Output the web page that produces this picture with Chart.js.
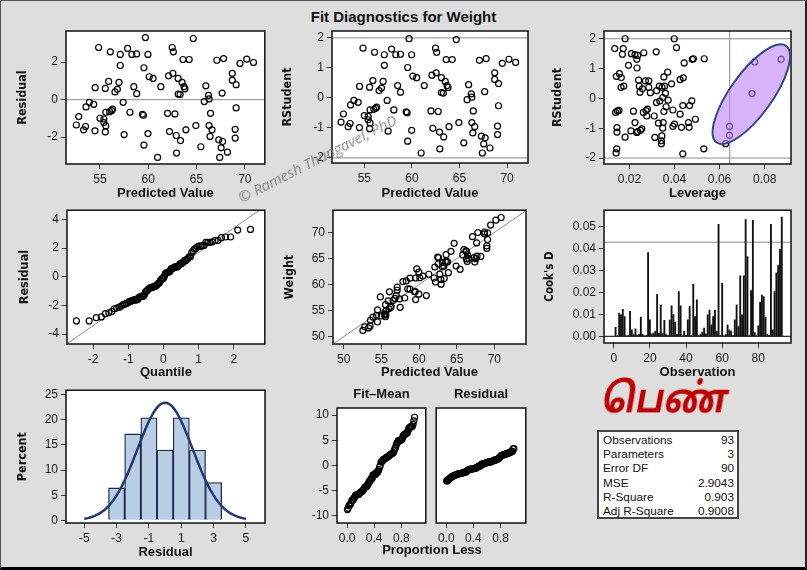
<!DOCTYPE html>
<html>
<head>
<meta charset="utf-8">
<script src="https://cdn.jsdelivr.net/npm/chart.js@4.4.1/dist/chart.umd.min.js"></script>
<style>
  html, body { margin: 0; padding: 0; }
  body { width: 807px; height: 570px; background: #dedede; position: relative; overflow: hidden;
         font-family: "Liberation Sans", Arial, sans-serif; }
  #frame { position: absolute; left: 0; top: 0; width: 804px; height: 566px;
           border-left: 1px solid #555; border-top: 1px solid #555; border-right: 2px solid #222; border-bottom: 3px solid #000; }
  canvas { position: absolute; }
  #title { position: absolute; left: 0; top: 8px; width: 807px; text-align: center; font-weight: bold; font-size: 15px; line-height: 18px; color: #111; }
  #wm { position: absolute; left: 243px; top: 188px; font-family: "Open Sans", sans-serif; font-style: italic; font-size: 15px;
        line-height: 18px; color: rgba(105,105,105,0.8); transform-origin: 0 100%; transform: rotate(-27deg); white-space: nowrap; }
  #tamil { position: absolute; left: 560px; top: 379px; width: 210px; text-align: center; color: #c00000;
           font-family: "Noto Sans Tamil", "Noto Serif Tamil", "Lohit Tamil", "Noto Sans", sans-serif;
           font-weight: bold; font-size: 41px; line-height: 46px; transform: scaleX(0.84) skewX(-12deg); }
  #stats { position: absolute; left: 597px; top: 430px; width: 136px; height: 83px; border: 2px solid #444; background: #fff;
           padding: 1px 1px; font-size: 11.8px; color: #111; }
  #stats div { display: flex; justify-content: space-between; height: 14.2px; line-height: 14.2px; padding: 0 2px 0 3px; }
  #proplabel { position: absolute; left: 332px; top: 542px; width: 200px; text-align: center; font-weight: bold; font-size: 13px; line-height: 16px; color: #111; }
</style>
</head>
<body>
<div id="frame"></div>
<div id="title">Fit Diagnostics for Weight</div>
<canvas id="c1"></canvas>
<canvas id="c2"></canvas>
<canvas id="c3"></canvas>
<canvas id="c4"></canvas>
<canvas id="c5"></canvas>
<canvas id="c6"></canvas>
<canvas id="c7"></canvas>
<canvas id="c8"></canvas>
<canvas id="c9"></canvas>
<div id="wm">© Ramesh Thangavel, PhD</div>
<div id="tamil">பெண்</div>
<div id="stats"></div>
<div id="proplabel">Proportion Less</div>
<script>
// values (93 observations)
const predicted = [59.7,64.66,54.86,56.07,57.86,57.1,58.3,58.8,59.97,62.48,
  62.6,63.6,64.24,67.1,67.8,69.5,70.2,70.9,57.1,59.55,
  68.7,62.55,62.1,60.1,60.5,63.1,55.9,56.97,63.5,68.7,
  69.1,63.7,54.5,55.55,56.8,56.55,58.5,61.3,63.8,65.96,
  67.65,58.8,63.1,63.3,66.24,66.3,65.8,53.9,54.35,53.55,
  57.4,56.3,56.2,56.0,55.6,58.1,69.1,62.0,62.76,59.4,
  59.5,66.45,52.8,55.0,55.4,55.4,55.6,52.55,53.5,53.3,
  54.48,55.55,57.5,64.93,66.3,66.6,63.9,62.2,59.97,69.0,
  62.9,63.34,66.4,67.3,67.7,69.0,59.55,65.45,67.55,68.2,
  62.93,60.97,67.4];
const residual = [3.31,3.26,2.78,2.55,2.73,2.41,2.41,2.44,2.41,2.78,
  2.55,2.14,2.14,2.1,2.19,1.93,2.16,1.98,1.82,1.7,
  1.4,1.4,1.27,1.22,1.13,1.13,0.97,0.92,0.92,1.03,
  0.8,0.69,0.64,0.6,0.55,0.41,0.69,0.69,0.58,0.74,
  0.35,0.32,0.3,0.27,0.23,0.04,-0.1,-0.14,-0.25,-0.39,
  -0.14,-0.51,-0.58,-0.64,-0.67,-0.67,-0.44,-0.73,-0.76,-0.78,
  -0.83,-0.73,-0.9,-0.99,-1.03,-1.22,-1.4,-1.35,-1.43,-1.61,
  -1.66,-1.72,-1.86,-1.38,-1.38,-1.61,-1.61,-1.7,-1.81,-1.58,
  -1.91,-2.18,-1.96,-2.14,-2.23,-2.05,-2.42,-2.51,-2.57,-2.8,
  -2.85,-3.08,-3.08];
const leverage = [0.0181,0.0399,0.0135,0.0173,0.0409,0.0169,0.0209,0.0225,0.0237,0.0264,
  0.0319,0.0233,0.0196,0.0234,0.0443,0.0479,0.0484,0.0532,0.0142,0.0156,
  0.0164,0.0241,0.0271,0.0286,0.0353,0.0370,0.0387,0.0425,0.0439,0.0163,
  0.0175,0.0244,0.0258,0.0286,0.0247,0.0293,0.0333,0.0345,0.0356,0.0321,
  0.0360,0.0348,0.0335,0.0372,0.0320,0.0477,0.0363,0.0437,0.0467,0.0280,
  0.0274,0.0262,0.0353,0.0393,0.0218,0.0147,0.0154,0.0139,0.0425,0.0493,
  0.0462,0.0277,0.0310,0.0329,0.0350,0.0225,0.0400,0.0393,0.0348,0.0431,
  0.0465,0.0145,0.0145,0.0207,0.0233,0.0249,0.0255,0.0237,0.0181,0.0313,
  0.0344,0.0342,0.0342,0.0144,0.0141,0.0437,0.0530,0.0627,0.0644,0.0644,
  0.0756,0.0873,0.0744];
const levRStudent = [2.0,2.0,1.67,1.67,1.7,1.48,1.5,1.47,1.44,1.53,
  1.56,1.31,1.11,1.02,1.19,1.31,1.33,1.33,0.74,0.83,
  0.7,0.61,0.59,0.59,0.72,0.88,0.49,0.63,0.69,0.37,
  0.41,0.41,0.32,0.37,0.21,0.19,0.41,0.37,0.41,0.26,
  0.17,0.03,-0.09,-0.06,-0.14,-0.08,-0.28,-0.24,-0.24,-0.36,
  -0.41,-0.47,-0.44,-0.39,-0.43,-0.42,-0.4,-0.47,-0.53,-0.7,
  -0.81,-0.59,-0.59,-0.83,-0.81,-0.81,-0.86,-0.94,-1.0,-0.97,
  -0.97,-0.98,-1.13,-1.09,-1.14,-1.07,-1.02,-1.11,-1.3,-1.31,
  -1.26,-1.42,-1.52,-1.69,-1.83,-1.86,-1.69,-1.52,-0.94,-1.24,
  1.22,1.31,0.16];
const cooksD = [0.0042,0.0003,0.0106,0.0098,0.0124,0.0091,0.0002,0.0004,0.0115,0.0030,
  0.0008,0.0035,0.0006,0.0010,0.0088,0.0010,0.0001,0.0005,0.0383,0.0076,
  0.0012,0.0015,0.0023,0.0192,0.0015,0.0144,0.0015,0.0073,0.0010,0.0004,
  0.0075,0.0140,0.0100,0.0065,0.0010,0.0205,0.0140,0.0003,0.0023,0.0005,
  0.0076,0.0136,0.0004,0.0238,0.0091,0.0167,0.0004,0.0010,0.0020,0.0038,
  0.0012,0.0098,0.0120,0.0053,0.0091,0.0120,0.0023,0.0512,0.0006,0.0242,
  0.0002,0.0008,0.0053,0.0030,0.0023,0.0004,0.0076,0.0144,0.0045,0.0276,
  0.0098,0.0276,0.0533,0.0364,0.0003,0.0209,0.0530,0.0018,0.0004,0.0048,
  0.0157,0.0189,0.0182,0.0088,0.0008,0.0005,0.0512,0.0030,0.0205,0.0290,
  0.0323,0.0397,0.0545];
const histMid = [-3, -2, -1, 0, 1, 2, 3];
const histPct = [6.45, 17.2, 20.4, 14.0, 20.4, 14.0, 7.5];

const statLabels = ['Observations', 'Parameters', 'Error DF', 'MSE', 'R-Square', 'Adj R-Square'];
const statValues = ['93', '3', '90', '2.9043', '0.903', '0.9008'];
const MSE = 2.9043, nParm = 3, nObs = 93;
const levCutoff = 0.0645, cookCutoff = 0.043;

// tick labels per panel
const tPredX = [55, 60, 65, 70];
const tResY = [-2, 0, 2];
const tRstY = [-2, -1, 0, 1, 2];
const tLevX = [0.02, 0.04, 0.06, 0.08];
const tQuantX = [-2, -1, 0, 1, 2];
const tQuantY = [-4, -2, 0, 2, 4];
const tWeight = [50, 55, 60, 65, 70];
const tObsX = [0, 20, 40, 60, 80];
const tCookY = [0, 0.01, 0.02, 0.03, 0.04, 0.05];
const tHistX = [-5, -3, -1, 1, 3, 5];
const tHistY = [0, 5, 10, 15, 20, 25];
const tPropX = [0, 0.4, 0.8];
const tSpreadY = [-10, -5, 0, 5, 10];

// ellipse round the high-leverage points (data units)
const ellipseCenter = [0.0741, 0.14];
const ellipseTip = [0.0895, 1.76];

// --- helpers ---
function qnorm(p) {
  const a = [-39.69683028665376, 220.9460984245205, -275.9285104469687, 138.3577518672690, -30.66479806614716, 2.506628277459239];
  const b = [-54.47609879822406, 161.5858368580409, -155.6989798598866, 66.80131188771972, -13.28068155288572];
  const c = [-0.007784894002430293, -0.3223964580411365, -2.400758277161838, -2.549732539343734, 4.374664141464968, 2.938163982698783];
  const d = [0.007784695709041462, 0.3224671290700398, 2.445134137142996, 3.754408661907416];
  const lo = 0.02425;
  if (p < lo || p > 1 - lo) {
    const q = Math.sqrt(-2 * Math.log(p < lo ? p : 1 - p));
    const v = (((((c[0]*q + c[1])*q + c[2])*q + c[3])*q + c[4])*q + c[5]) / ((((d[0]*q + d[1])*q + d[2])*q + d[3])*q + 1);
    return p < lo ? v : -v;
  }
  const q = p - 0.5, r = q * q;
  return (((((a[0]*r + a[1])*r + a[2])*r + a[3])*r + a[4])*r + a[5]) * q / (((((b[0]*r + b[1])*r + b[2])*r + b[3])*r + b[4])*r + 1);
}

const tickFont = { family: '"Liberation Sans", Arial, sans-serif', size: 12 };
const xTitleFont = { family: '"Liberation Sans", Arial, sans-serif', size: 13, weight: 'bold' };
const yTitleFont = { family: '"Liberation Sans Narrow", "DejaVu Sans Condensed", "Liberation Sans", sans-serif', size: 12.5, weight: 'bold' };

function axis(min, max, vals, dec, title, size, titlePad, isY, tFont) {
  return {
    type: 'linear', min, max, offset: false,
    afterBuildTicks: s => { s.ticks = vals.map(v => ({ value: v })); },
    afterFit: s => { if (isY) s.width = size; else s.height = size; },
    ticks: { color: '#1a1a1a', font: tickFont, padding: 3, maxRotation: 0, autoSkip: false, callback: v => Number(v).toFixed(dec) },
    grid: { display: true, drawOnChartArea: false, drawTicks: true, tickLength: 5, color: '#333', offset: false },
    border: { display: false },
    title: title
      ? { display: true, text: title, color: '#111', font: tFont || (isY ? yTitleFont : xTitleFont),
          padding: isY ? { top: titlePad, bottom: 0 } : { top: 0, bottom: titlePad } }
      : { display: false }
  };
}

const framePlugin = {
  id: 'frame',
  beforeDraw(chart) {
    const a = chart.chartArea, ctx = chart.ctx;
    ctx.save(); ctx.fillStyle = '#fff'; ctx.fillRect(a.left, a.top, a.right - a.left, a.bottom - a.top); ctx.restore();
  },
  afterDatasetsDraw(chart) {
    const a = chart.chartArea, ctx = chart.ctx;
    ctx.save(); ctx.strokeStyle = '#111'; ctx.lineWidth = 1.5;
    ctx.strokeRect(a.left, a.top, a.right - a.left, a.bottom - a.top); ctx.restore();
  }
};

function headerPlugin(text) {
  return {
    id: 'header',
    afterDraw(chart) {
      const a = chart.chartArea, ctx = chart.ctx;
      ctx.save(); ctx.font = 'bold 13px "Liberation Sans", Arial, sans-serif'; ctx.fillStyle = '#111';
      ctx.textAlign = 'center'; ctx.textBaseline = 'middle';
      ctx.fillText(text, (a.left + a.right) / 2, a.top - 14); ctx.restore();
    }
  };
}

const ellipsePlugin = {
  id: 'levEllipse',
  afterDatasetsDraw(chart) {
    const { ctx, scales: { x, y } } = chart;
    const cx = x.getPixelForValue(ellipseCenter[0]), cy = y.getPixelForValue(ellipseCenter[1]);
    const tx = x.getPixelForValue(ellipseTip[0]), ty = y.getPixelForValue(ellipseTip[1]);
    const semiMajor = Math.hypot(tx - cx, ty - cy), ang = Math.atan2(ty - cy, tx - cx);
    ctx.save();
    ctx.beginPath(); ctx.ellipse(cx, cy, semiMajor, 21, ang, 0, Math.PI * 2);
    ctx.fillStyle = 'rgba(188,130,247,0.6)'; ctx.fill();
    ctx.lineWidth = 2; ctx.strokeStyle = '#2e4a80'; ctx.stroke();
    ctx.restore();
  }
};

// rect = canvas [x, y, w, h] on the page, box = plot frame [l, t, r, b] on the page
function panel(id, rect, box, cfg, noY) {
  const cv = document.getElementById(id);
  cv.style.left = rect[0] + 'px'; cv.style.top = rect[1] + 'px';
  cv.width = rect[2]; cv.height = rect[3];
  const sc = cfg.options.scales;
  sc.y.afterFit = s => { s.width = box[0] - rect[0]; };
  sc.x.afterFit = s => { s.height = rect[1] + rect[3] - box[3]; };
  cfg.options.responsive = false;
  cfg.options.animation = false;
  cfg.options.events = [];
  cfg.options.layout = { padding: { top: box[1] - rect[1], right: rect[0] + rect[2] - box[2], left: noY ? box[0] - rect[0] : 0, bottom: 0 } };
  cfg.options.plugins = { legend: { display: false }, tooltip: { enabled: false } };
  cfg.plugins = [framePlugin].concat(cfg.plugins || []);
  return new Chart(cv, cfg);
}

const dots = { pointRadius: 3, pointBorderWidth: 1.2, pointBorderColor: '#000', pointBackgroundColor: 'rgba(0,0,0,0)', showLine: false };
const ref = { showLine: true, pointRadius: 0, borderColor: '#8c8c8c', borderWidth: 1, fill: false };
const refLine = (x0, y0, x1, y1) => Object.assign({ data: [{ x: x0, y: y0 }, { x: x1, y: y1 }] }, ref);

// --- derived series ---
const rstudent = residual.map(r => r / Math.sqrt(MSE * (1 - nParm / nObs)));
const weight = predicted.map((p, i) => p + residual[i]);
const sortedRes = residual.slice().sort((a, b) => a - b);
const meanFit = predicted.reduce((s, v) => s + v, 0) / nObs;
const sortedFit = predicted.map(v => v - meanFit).sort((a, b) => a - b);
const propLess = i => (i + 0.5) / nObs;
const sd = Math.sqrt(MSE);
const normalCurve = [];
for (let k = -50; k <= 50; k++) {
  const x = k / 10;
  normalCurve.push({ x, y: 100 * Math.exp(-x * x / (2 * sd * sd)) / (sd * Math.sqrt(2 * Math.PI)) });
}

// 1. Residual vs Predicted
panel('c1', [0, 20, 270, 185], [66, 31, 265, 164], {
  type: 'scatter',
  data: { datasets: [
    Object.assign({ data: predicted.map((p, i) => ({ x: p, y: residual[i] })) }, dots),
    refLine(51.48, 0, 72.07, 0)
  ] },
  options: { scales: {
    x: axis(51.48, 72.07, tPredX, 0, 'Predicted Value', 0, 4.2, false),
    y: axis(-3.43, 3.66, tResY, 0, 'Residual', 0, 15.5, true)
  } }
});

// 2. RStudent vs Predicted
panel('c2', [270, 20, 270, 185], [332, 31, 528, 163], {
  type: 'scatter',
  data: { datasets: [
    Object.assign({ data: predicted.map((p, i) => ({ x: p, y: rstudent[i] })) }, dots),
    refLine(51.6, 2, 72.2, 2),
    refLine(51.6, -2, 72.2, -2)
  ] },
  options: { scales: {
    x: axis(51.6, 72.2, tPredX, 0, 'Predicted Value', 0, 4.2, false),
    y: axis(-2.17, 2.23, tRstY, 0, 'RStudent', 0, 10.5, true)
  } }
});

// 3. RStudent vs Leverage
panel('c3', [540, 20, 267, 185], [604, 31, 791, 164], {
  type: 'scatter',
  data: { datasets: [
    Object.assign({ data: leverage.map((h, i) => ({ x: h, y: levRStudent[i] })) }, dots),
    refLine(0.00874, 2, 0.0917, 2),
    refLine(0.00874, -2, 0.0917, -2),
    refLine(levCutoff, -2.2, levCutoff, 2.26)
  ] },
  options: { scales: {
    x: axis(0.00874, 0.0917, tLevX, 2, 'Leverage', 0, 4.2, false),
    y: axis(-2.2, 2.26, tRstY, 0, 'RStudent', 0, 10.5, true)
  } },
  plugins: [ellipsePlugin]
});

// 4. Q-Q plot of residuals
panel('c4', [0, 200, 270, 185], [67, 210, 265, 344], {
  type: 'scatter',
  data: { datasets: [
    Object.assign({ data: sortedRes.map((r, i) => ({ x: qnorm((i + 1 - 0.375) / (nObs + 0.25)), y: r })) }, dots),
    refLine(-2.74, -2.74 * sd, 2.88, 2.88 * sd)
  ] },
  options: { scales: {
    x: axis(-2.74, 2.88, tQuantX, 0, 'Quantile', 0, 5.2, false),
    y: axis(-4.69, 4.65, tQuantY, 0, 'Residual', 0, 17.5, true)
  } }
});

// 5. Observed vs Predicted
panel('c5', [270, 200, 270, 185], [333, 210, 526, 344], {
  type: 'scatter',
  data: { datasets: [
    Object.assign({ data: predicted.map((p, i) => ({ x: p, y: weight[i] })) }, dots),
    refLine(48.58, 48.58, 74.28, 74.28)
  ] },
  options: { scales: {
    x: axis(48.58, 74.2, tWeight, 0, 'Predicted Value', 0, 5.2, false),
    y: axis(48.6, 74.28, tWeight, 0, 'Weight', 0, 12.5, true)
  } }
});

// 6. Cook's D by observation
panel('c6', [540, 200, 267, 185], [604, 210, 791, 343], {
  type: 'bar',
  data: { datasets: [
    { type: 'bar', data: cooksD.map((v, i) => ({ x: i + 1, y: v })), backgroundColor: '#111', barThickness: 1.2 },
    { type: 'line', data: [{ x: -5.4, y: cookCutoff }, { x: 98.1, y: cookCutoff }], pointRadius: 0, borderColor: '#8c8c8c', borderWidth: 1 },
    { type: 'line', data: [{ x: -5.4, y: 0 }, { x: 98.1, y: 0 }], pointRadius: 0, borderColor: '#333', borderWidth: 1.2 }
  ] },
  options: { scales: {
    x: axis(-5.4, 98.1, tObsX, 0, 'Observation', 0, 5.2, false),
    y: axis(-0.003, 0.0576, tCookY, 2, "Cook's D", 0, 3.4, true,
      { family: yTitleFont.family, size: 11.5, weight: 'bold' })
  } }
});

// 7. Histogram of residuals with normal curve
panel('c7', [0, 380, 270, 185], [66, 389, 265, 523], {
  type: 'bar',
  data: { datasets: [
    { type: 'line', data: normalCurve, pointRadius: 0, borderColor: '#1f3b73', borderWidth: 2.5, tension: 0 },
    { type: 'bar', data: histMid.map((m, i) => ({ x: m, y: histPct[i] })), backgroundColor: '#b9cde5',
      borderColor: '#1b2a47', borderWidth: 1.3, barPercentage: 1, categoryPercentage: 1 }
  ] },
  options: { scales: {
    x: axis(-6.13, 6.18, tHistX, 0, 'Residual', 0, 5.2, false),
    y: axis(-0.53, 25.9, tHistY, 0, 'Percent', 0, 15.5, true)
  } }
});

// 8. Residual-fit spread plot
panel('c8', [290, 380, 141, 185], [337, 408, 431, 523], {
  type: 'scatter',
  data: { datasets: [Object.assign({ data: sortedFit.map((v, i) => ({ x: propLess(i), y: v })) }, dots)] },
  options: { scales: {
    x: axis(-0.148, 1.16, tPropX, 1, null, 0, 0, false),
    y: axis(-11.45, 11.4, tSpreadY, 0, null, 0, 0, true)
  } },
  plugins: [headerPlugin('Fit–Mean')]
});
panel('c9', [431, 380, 100, 185], [433, 408, 528, 523], {
  type: 'scatter',
  data: { datasets: [Object.assign({ data: sortedRes.map((v, i) => ({ x: propLess(i), y: v })) }, dots)] },
  options: { scales: {
    x: axis(-0.148, 1.17, tPropX, 1, null, 0, 0, false),
    y: Object.assign(axis(-11.45, 11.4, tSpreadY, 0, null, 0, 0, true), { display: false })
  } },
  plugins: [headerPlugin('Residual')]
}, true);

// fit statistics box
document.getElementById('stats').innerHTML = statLabels
  .map((l, i) => `<div><span>${l}</span><span>${statValues[i]}</span></div>`).join('');
</script>
</body>
</html>
